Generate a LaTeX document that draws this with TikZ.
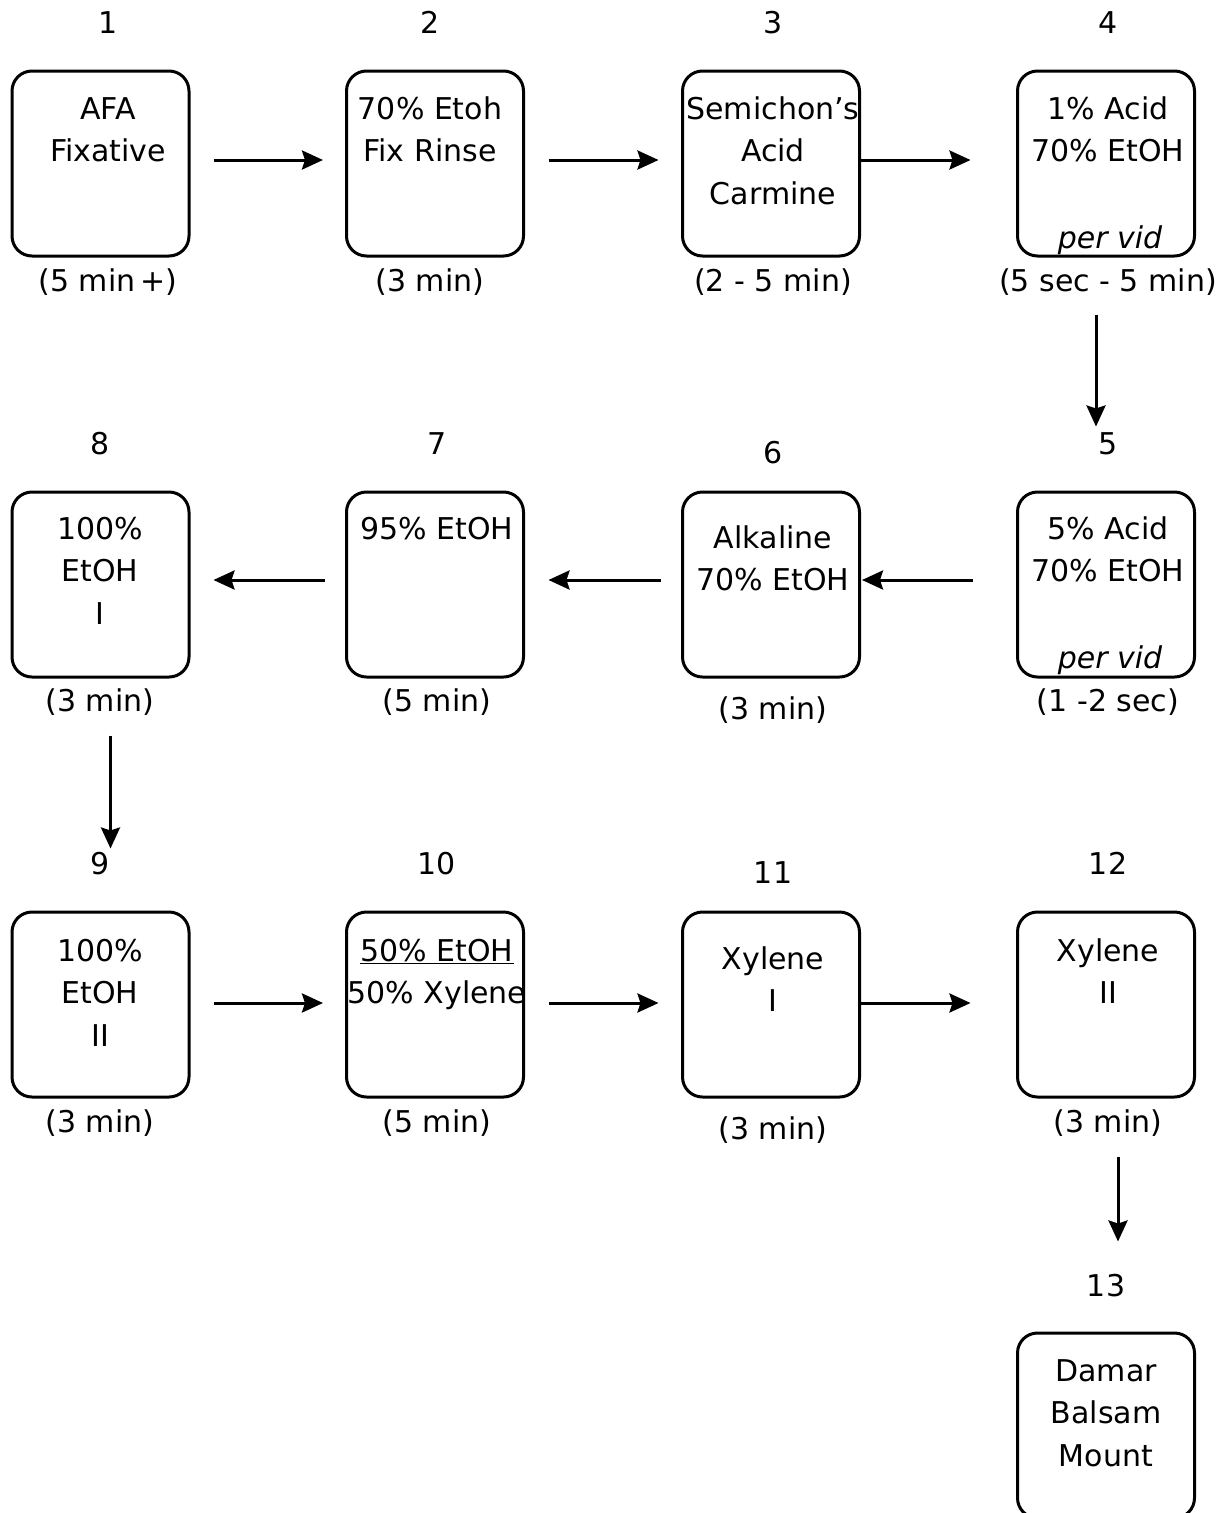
\documentclass[tikz,border=0pt]{standalone}
\usepackage{fontspec}
\setmainfont{DejaVu Sans}
\usetikzlibrary{arrows.meta}
\begin{document}
\begin{tikzpicture}[x=1pt,y=-1pt,
 box/.style={draw, line width=3pt, rounded corners=20pt, minimum width=177pt, minimum height=185pt, inner sep=0pt},
 txt/.style={font=\fontsize{30}{42.5}\selectfont, align=center, anchor=base, inner sep=0pt},
 arr/.style={line width=3pt, -{Stealth[length=21pt,width=19pt,inset=3pt]}},
]
\useasboundingbox (0,0) rectangle (1228,1513);
% boxes
\node[box] (b1) at (100.5,163.5) {};
\node[box] (b2) at (435,163.5) {};
\node[box] (b3) at (771,163.5) {};
\node[box] (b4) at (1106,163.5) {};
\node[box] (b8) at (100.5,584.5) {};
\node[box] (b7) at (435,584.5) {};
\node[box] (b6) at (771,584.5) {};
\node[box] (b5) at (1106,584.5) {};
\node[box] (b9) at (100.5,1004.5) {};
\node[box] (b10) at (435,1004.5) {};
\node[box] (b11) at (771,1004.5) {};
\node[box] (b12) at (1106,1004.5) {};
\node[box] (b13) at (1106,1425.5) {};
% numbers
\node[txt] (n1) at (108,33) {1};
\node[txt] (n2) at (430,33) {2};
\node[txt] (n3) at (773,33) {3};
\node[txt] (n4) at (1108,33) {4};
\node[txt] (n8) at (100,454) {8};
\node[txt] (n7) at (437,454) {7};
\node[txt] (n6) at (773,463) {6};
\node[txt] (n5) at (1108,454) {5};
\node[txt] (n9) at (100,874) {9};
\node[txt] (n10) at (437,874) {10};
\node[txt] (n11) at (773,883) {11};
\node[txt] (n12) at (1108,874) {12};
\node[txt] (n13) at (1106,1296) {13};
% times
\node[txt] (t1) at (108,291) {(5 min\,+)};
\node[txt] (t2) at (430,291) {(3 min)};
\node[txt] (t3) at (773,291) {(2 - 5 min)};
\node[txt] (t4) at (1108,291) {(5 sec - 5 min)};
\node[txt] (t8) at (100,711) {(3 min)};
\node[txt] (t7) at (437,711) {(5 min)};
\node[txt] (t6) at (773,719) {(3 min)};
\node[txt] (t5) at (1108,711) {(1 -2 sec)};
\node[txt] (t9) at (100,1132) {(3 min)};
\node[txt] (t10) at (437,1132) {(5 min)};
\node[txt] (t11) at (773,1139) {(3 min)};
\node[txt] (t12) at (1108,1132) {(3 min)};
% box labels (anchor = baseline of last line)
\node[txt] (l1) at (108,161.5) {AFA\\Fixative};
\node[txt] (l2) at (430,161.5) {70\% Etoh\\Fix Rinse};
\node[txt] (l3) at (773,204) {Semichon’s\\Acid\\Carmine};
\node[txt] (l4) at (1108,161.5) {1\% Acid\\70\% EtOH};
\node[txt] (l4b) at (1110,248) {\itshape per vid};
\node[txt] (l8) at (100,624) {100\%\\EtOH\\I};
\node[txt] (l7) at (437,539) {95\% EtOH};
\node[txt] (l6) at (773,590.5) {Alkaline\\70\% EtOH};
\node[txt] (l5) at (1108,581.5) {5\% Acid\\70\% EtOH};
\node[txt] (l5b) at (1110,668) {\itshape per vid};
\node[txt] (l9) at (100,1046) {100\%\\EtOH\\II};
\node[txt] (l10) at (437,1003.5) {\underline{50\% EtOH}\\50\% Xylene};
\node[txt] (l11) at (773,1011.5) {Xylene\\I};
\node[txt] (l12) at (1108,1003.5) {Xylene\\II};
\node[txt] (l13) at (1106,1466) {Damar\\Balsam\\Mount};
% arrows row 1
\draw[arr, shorten <=23pt, shorten >=22pt] ([yshift=3.5pt]b1.east) -- ([yshift=3.5pt]b2.west);
\draw[arr, shorten <=23.5pt, shorten >=22.5pt] ([yshift=3.5pt]b2.east) -- ([yshift=3.5pt]b3.west);
\draw[arr, shorten <=0pt, shorten >=45.5pt] ([yshift=3.5pt]b3.east) -- ([yshift=3.5pt]b4.west);
\draw[arr, shorten <=57pt, shorten >=64pt] ([xshift=-10pt]b4.south) -- ([xshift=-10pt]b5.north);
% row 2
\draw[arr, shorten <=43pt, shorten >=1pt] ([yshift=4.5pt]b5.west) -- ([yshift=4.5pt]b6.east);
\draw[arr, shorten <=20.5pt, shorten >=23.5pt] ([yshift=4.5pt]b6.west) -- ([yshift=4.5pt]b7.east);
\draw[arr, shorten <=20.5pt, shorten >=23pt] ([yshift=4.5pt]b7.west) -- ([yshift=4.5pt]b8.east);
\draw[arr, shorten <=57pt, shorten >=62pt] ([xshift=10pt]b8.south) -- ([xshift=10pt]b9.north);
% row 3
\draw[arr, shorten <=23pt, shorten >=22pt] ([yshift=1.5pt]b9.east) -- ([yshift=1.5pt]b10.west);
\draw[arr, shorten <=23.5pt, shorten >=22.5pt] ([yshift=1.5pt]b10.east) -- ([yshift=1.5pt]b11.west);
\draw[arr, shorten <=0pt, shorten >=45.5pt] ([yshift=1.5pt]b11.east) -- ([yshift=1.5pt]b12.west);
\draw[arr, shorten <=58pt, shorten >=90pt] ([xshift=12pt]b12.south) -- ([xshift=12pt]b13.north);
\end{tikzpicture}
\end{document}
